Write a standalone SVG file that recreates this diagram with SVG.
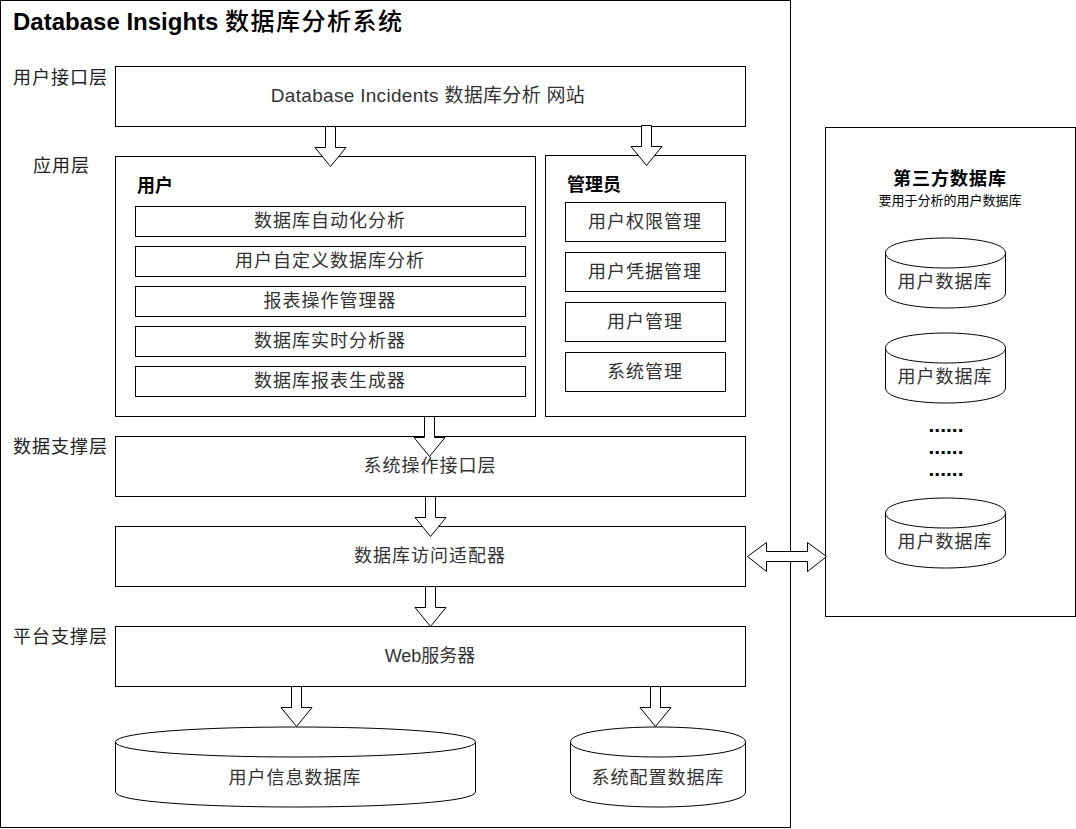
<svg xmlns="http://www.w3.org/2000/svg" xmlns:xlink="http://www.w3.org/1999/xlink" width="1076" height="829" viewBox="0 0 1076 829">
<style>
  .box { fill: #fff; stroke: #000; stroke-width: 1; }
  .arr { fill: #fff; stroke: #000; stroke-width: 1; }
  text { font-family: "Liberation Sans", "Noto Sans CJK SC", sans-serif; }
  .title { font-size: 24px; font-weight: bold; fill: #000; }
  .layer { font-size: 18px; fill: #222; letter-spacing: 1px; }
  .head { font-size: 18px; font-weight: bold; fill: #000; }
  .lbl { font-size: 18px; fill: #333; text-anchor: middle; letter-spacing: 1px; }
  .sub { font-size: 13px; fill: #000; text-anchor: middle; }
  .dots { font-size: 21px; font-weight: bold; fill: #000; text-anchor: middle; }
</style>
<defs>
  <path id="darr" d="M-5,0 H5 V21 H15.5 L0,40 L-15.5,21 H-5 Z"/>
</defs>
<rect width="1076" height="829" fill="#fff"/>

<g id="frame">
  <rect class="box" x="0.5" y="0.5" width="790" height="827"/>
  <text class="title" x="13" y="30">Database Insights <tspan style="font-weight:500;letter-spacing:1.5px">数据库分析系统</tspan></text>
</g>

<g id="layer-labels">
  <text class="layer" x="13" y="84">用户接口层</text>
  <text class="layer" x="33" y="172">应用层</text>
  <text class="layer" x="13" y="453">数据支撑层</text>
  <text class="layer" x="13" y="643">平台支撑层</text>
</g>

<g id="ui">
  <rect class="box" x="115.5" y="66.5" width="630" height="60"/>
  <text class="lbl" x="428" y="102" style="letter-spacing:0.3px;font-size:19px">Database Incidents 数据库分析 网站</text>
</g>

<g id="user">
  <rect class="box" x="115.5" y="156.5" width="420" height="260"/>
  <text class="head" x="137" y="192">用户</text>
  <g id="u1"><rect class="box" x="135.5" y="206.5" width="390" height="30"/><text class="lbl" x="330" y="227">数据库自动化分析</text></g>
  <g id="u2"><rect class="box" x="135.5" y="246.5" width="390" height="30"/><text class="lbl" x="330" y="267">用户自定义数据库分析</text></g>
  <g id="u3"><rect class="box" x="135.5" y="286.5" width="390" height="30"/><text class="lbl" x="330" y="307">报表操作管理器</text></g>
  <g id="u4"><rect class="box" x="135.5" y="326.5" width="390" height="30"/><text class="lbl" x="330" y="347">数据库实时分析器</text></g>
  <g id="u5"><rect class="box" x="135.5" y="366.5" width="390" height="30"/><text class="lbl" x="330" y="387">数据库报表生成器</text></g>
</g>

<g id="admin">
  <rect class="box" x="545.5" y="155.5" width="200" height="261"/>
  <text class="head" x="567" y="191">管理员</text>
  <g id="a1"><rect class="box" x="565.5" y="202.5" width="160" height="39"/><text class="lbl" x="645" y="228">用户权限管理</text></g>
  <g id="a2"><rect class="box" x="565.5" y="252.5" width="160" height="39"/><text class="lbl" x="645" y="278">用户凭据管理</text></g>
  <g id="a3"><rect class="box" x="565.5" y="302.5" width="160" height="39"/><text class="lbl" x="645" y="328">用户管理</text></g>
  <g id="a4"><rect class="box" x="565.5" y="352.5" width="160" height="39"/><text class="lbl" x="645" y="378">系统管理</text></g>
</g>

<g id="sysapi">
  <rect class="box" x="115.5" y="436.5" width="630" height="60"/>
  <text class="lbl" x="430" y="472">系统操作接口层</text>
</g>

<g id="adapter">
  <rect class="box" x="115.5" y="526.5" width="630" height="60"/>
  <text class="lbl" x="430" y="562">数据库访问适配器</text>
</g>

<g id="web">
  <rect class="box" x="115.5" y="626.5" width="630" height="60"/>
  <text class="lbl" x="430" y="662" style="letter-spacing:0">Web服务器</text>
</g>

<g id="userinfo-db">
  <path class="box" d="M115.5,742 C115.5,722 475.5,722 475.5,742 L475.5,792 C475.5,812 115.5,812 115.5,792 Z"/>
  <path class="box" fill="none" d="M115.5,742 C115.5,762 475.5,762 475.5,742"/>
  <text class="lbl" x="295" y="784">用户信息数据库</text>
</g>

<g id="sysconf-db">
  <path class="box" d="M570.5,742 C570.5,722 745.5,722 745.5,742 L745.5,792 C745.5,812 570.5,812 570.5,792 Z"/>
  <path class="box" fill="none" d="M570.5,742 C570.5,762 745.5,762 745.5,742"/>
  <text class="lbl" x="658" y="784">系统配置数据库</text>
</g>

<g id="third-party">
  <rect class="box" x="825.5" y="127.5" width="250" height="489"/>
  <text class="head" x="950" y="185" text-anchor="middle" style="letter-spacing:1px">第三方数据库</text>
  <text class="sub" x="950" y="205">要用于分析的用户数据库</text>
  <g id="tdb1">
    <path class="box" d="M885.5,253 C885.5,233 1005.5,233 1005.5,253 L1005.5,293 C1005.5,313 885.5,313 885.5,293 Z"/>
    <path class="box" fill="none" d="M885.5,253 C885.5,273 1005.5,273 1005.5,253"/>
    <text class="lbl" x="945" y="288">用户数据库</text>
  </g>
  <g id="tdb2">
    <path class="box" d="M885.5,348 C885.5,328 1005.5,328 1005.5,348 L1005.5,388 C1005.5,408 885.5,408 885.5,388 Z"/>
    <path class="box" fill="none" d="M885.5,348 C885.5,368 1005.5,368 1005.5,348"/>
    <text class="lbl" x="945" y="383">用户数据库</text>
  </g>
  <text class="dots" x="946" y="432">......</text>
  <text class="dots" x="946" y="454">......</text>
  <text class="dots" x="946" y="476">......</text>
  <g id="tdb3">
    <path class="box" d="M885.5,513 C885.5,493 1005.5,493 1005.5,513 L1005.5,553 C1005.5,573 885.5,573 885.5,553 Z"/>
    <path class="box" fill="none" d="M885.5,513 C885.5,533 1005.5,533 1005.5,513"/>
    <text class="lbl" x="945" y="548">用户数据库</text>
  </g>
</g>

<g id="connectors">
  <use xlink:href="#darr" class="arr" transform="translate(330.5,126.5)"/>
  <use xlink:href="#darr" class="arr" transform="translate(646.5,125.5)"/>
  <use xlink:href="#darr" class="arr" transform="translate(429.5,416.5)"/>
  <use xlink:href="#darr" class="arr" transform="translate(430.5,496.5)"/>
  <use xlink:href="#darr" class="arr" transform="translate(430.5,586.5)"/>
  <use xlink:href="#darr" class="arr" transform="translate(296.5,686.5)"/>
  <use xlink:href="#darr" class="arr" transform="translate(655.5,686.5)"/>
  <path class="arr" d="M747.5,556.5 L766.5,542.5 V551.5 H807.5 V542.5 L826.5,556.5 L807.5,571.5 V561.5 H766.5 V571.5 Z"/>
</g>
</svg>
